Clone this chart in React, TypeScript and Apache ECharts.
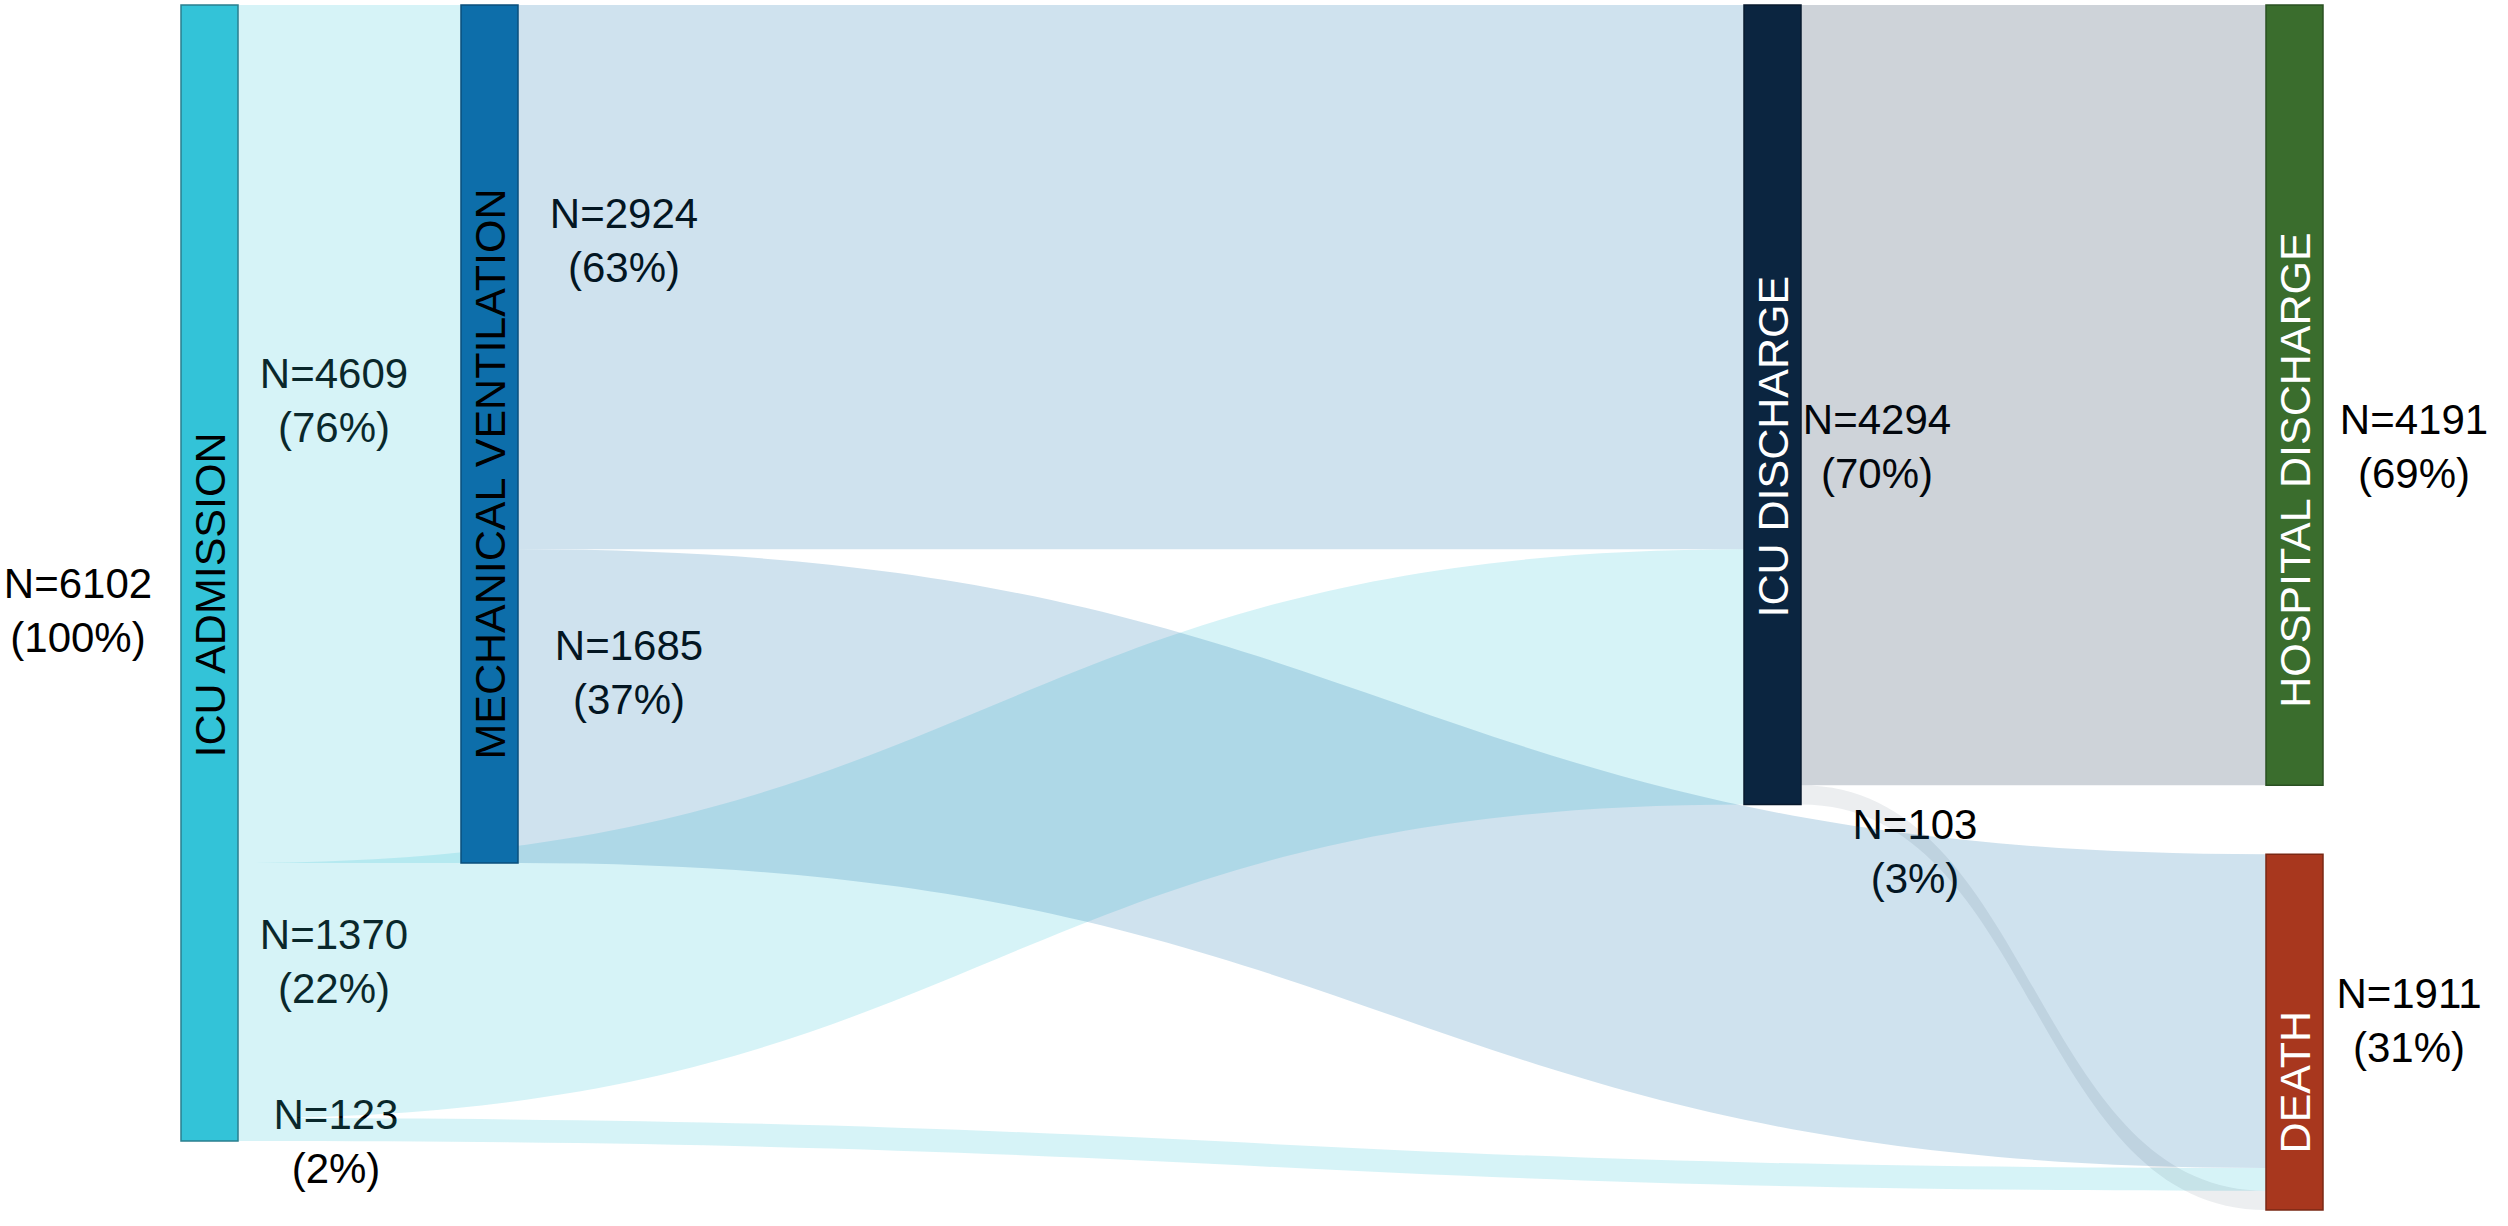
import React, { useEffect, useRef } from "react";
import * as echarts from "echarts";

// ---- Data ----
const nodeNames = [
  "ICU ADMISSION",
  "MECHANICAL VENTILATION",
  "ICU DISCHARGE",
  "HOSPITAL DISCHARGE",
  "DEATH",
];
const nodeTotals = [6102, 4609, 4294, 4191, 1911];
const nodePercents = ["100%", "76%", "70%", "69%", "31%"];

const linkSources = [
  "ICU ADMISSION",
  "MECHANICAL VENTILATION",
  "ICU ADMISSION",
  "MECHANICAL VENTILATION",
  "ICU ADMISSION",
  "ICU DISCHARGE",
  "ICU DISCHARGE",
];
const linkTargets = [
  "MECHANICAL VENTILATION",
  "ICU DISCHARGE",
  "ICU DISCHARGE",
  "DEATH",
  "DEATH",
  "HOSPITAL DISCHARGE",
  "DEATH",
];
const linkValues = [4609, 2924, 1370, 1685, 123, 4191, 103];
const linkPercents = ["76%", "63%", "22%", "37%", "2%", "69%", "3%"];

// ---- Styles ----
const nodeColors = ["#33C3D8", "#0D6EAA", "#0B2540", "#3A6D2D", "#A8371E"];
const nodeBorders = ["#2A7F8E", "#0A4F7C", "#081A2E", "#2A5022", "#7A2814"];
const nodeLabelColors = ["#000000", "#000000", "#ffffff", "#ffffff", "#ffffff"];
const nodeDepths = [0, 280 / 695, 1563 / 695, 3, 3];
const nodeLabelShift = [22, 40, 42, 75, 50];
const linkOpacity = [0.2, 0.2, 0.2, 0.2, 0.2, 0.2, 0.08];

const FONT = "'Liberation Sans', Arial, Helvetica, sans-serif";

export default function App() {
  const ref = useRef<HTMLDivElement>(null);

  useEffect(() => {
    document.body.style.margin = "0";
    document.body.style.overflow = "hidden";
    if (!ref.current) return;
    const chart = echarts.init(ref.current, null, { renderer: "svg" });

    const data = nodeNames.map((name, i) => ({
      name,
      depth: nodeDepths[i],
      itemStyle: {
        color: nodeColors[i],
        borderColor: nodeBorders[i],
        borderWidth: 1.5,
      },
      label: {
        color: nodeLabelColors[i],
        offset: [-nodeLabelShift[i], 0],
      },
    }));

    const links = linkValues.map((v, i) => ({
      source: linkSources[i],
      target: linkTargets[i],
      value: v,
      lineStyle: { opacity: linkOpacity[i] },
    }));

    const lbl = (txt: string, x: number, y: number) => ({
      type: "text",
      x,
      y,
      silent: true,
      style: {
        text: txt,
        fill: "#000",
        fontSize: 42,
        fontFamily: FONT,
        lineHeight: 54,
        align: "center",
        verticalAlign: "middle",
      },
    });
    const nText = (v: number, p: string) => `N=${v}\n(${p})`;

    const graphic = [
      lbl(nText(nodeTotals[0], nodePercents[0]), 78, 610),
      lbl(nText(linkValues[0], linkPercents[0]), 334, 400),
      lbl(nText(linkValues[2], linkPercents[2]), 334, 961),
      lbl(nText(linkValues[4], linkPercents[4]), 336, 1141),
      lbl(nText(linkValues[1], linkPercents[1]), 624, 240),
      lbl(nText(linkValues[3], linkPercents[3]), 629, 672),
      lbl(nText(nodeTotals[2], nodePercents[2]), 1877, 446),
      lbl(nText(linkValues[6], linkPercents[6]), 1915, 851),
      lbl(nText(nodeTotals[3], nodePercents[3]), 2414, 446),
      lbl(nText(nodeTotals[4], nodePercents[4]), 2409, 1020),
    ];

    chart.setOption({
      animation: false,
      backgroundColor: "#ffffff",
      tooltip: { show: false },
      graphic,
      series: [
        {
          type: "sankey",
          left: 181,
          top: 5,
          right: 185,
          bottom: 16,
          nodeWidth: 57,
          nodeGap: 69,
          layoutIterations: 0,
          nodeAlign: "left",
          draggable: false,
          emphasis: { disabled: true },
          data,
          links,
          lineStyle: { color: "source", opacity: 0.2, curveness: 0.5 },
          label: {
            show: true,
            position: "inside",
            rotate: 90,
            fontSize: 43,
            fontFamily: FONT,
            align: "center",
            verticalAlign: "middle",
          },
        },
      ],
    });

    return () => chart.dispose();
  }, []);

  return (
    <div
      ref={ref}
      style={{ position: "absolute", left: 0, top: 0, width: 2508, height: 1226 }}
    />
  );
}
